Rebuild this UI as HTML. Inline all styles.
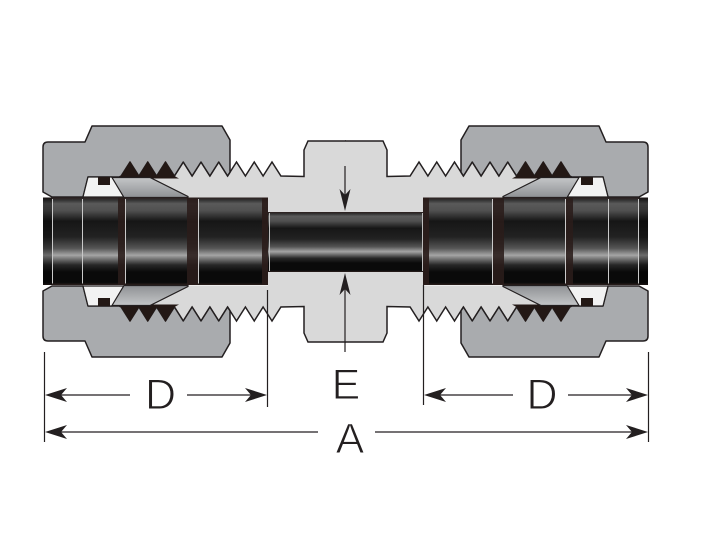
<!DOCTYPE html>
<html><head><meta charset="utf-8"><style>
html,body{margin:0;padding:0;background:#fff;}
svg{display:block;}
</style></head><body>
<svg width="707" height="546" viewBox="0 0 707 546" xmlns="http://www.w3.org/2000/svg">
<defs>
<linearGradient id="tg" x1="0" y1="0" x2="0" y2="1">
<stop offset="0" stop-color="#2b1f1d"/>
<stop offset="0.03" stop-color="#333"/>
<stop offset="0.07" stop-color="#5a5a5a"/>
<stop offset="0.15" stop-color="#505050"/>
<stop offset="0.27" stop-color="#161616"/>
<stop offset="0.45" stop-color="#222"/>
<stop offset="0.58" stop-color="#555"/>
<stop offset="0.66" stop-color="#a5a5a5"/>
<stop offset="0.70" stop-color="#777"/>
<stop offset="0.77" stop-color="#282828"/>
<stop offset="0.85" stop-color="#0a0a0a"/>
<stop offset="0.97" stop-color="#0a0a0a"/>
<stop offset="1" stop-color="#2b1f1d"/>
</linearGradient>
<linearGradient id="fg" x1="0" y1="0" x2="0" y2="1">
<stop offset="0" stop-color="#c4c6c8"/>
<stop offset="1" stop-color="#8f9194"/>
</linearGradient>
<g id="q">
<path d="M150,177.5 L174.4,176 L183.25,162 L192.1,176 L201,162 L209.9,176 L218.75,162 L227.6,176 L236.5,162 L245.4,176 L254.25,162 L263.1,176 L272,162 L280.9,176 L304,176.5 L304,150 L308,141 L346,141 L346,212.5 L268,212.5 L268,197.5 L188,197.5 Z" fill="#d9d9d9"/>
<path d="M174.4,176 L183.25,162 L192.1,176 L201,162 L209.9,176 L218.75,162 L227.6,176 L236.5,162 L245.4,176 L254.25,162 L263.1,176 L272,162 L280.9,176 L304,176.5 L304,150 L308,141 L346,141" fill="none" stroke="#231f20" stroke-width="1.5" stroke-linejoin="miter"/>
<path d="M43,192 L43,147 Q43,142 48,142 L85,142 L92,126 L222,126 L230,140 L230,172.2 L227.6,176 L218.75,162 L209.9,176 L201,162 L192.1,176 L183.25,162 L174.4,176 L165.5,162 L156.6,176 L147.75,162 L138.9,176 L130,162 L121.1,176 L119,177 L88,177 L83,197 L52,197 Z" fill="#a9abae" stroke="#231f20" stroke-width="1.5" stroke-linejoin="round"/>
<path d="M117,178.5 L121.1,176 L130,161 L138.9,176 L147.75,161 L156.6,176 L165.5,161 L174.4,176 L179,178.5 Z" fill="#231815"/>
<path d="M88,177 L112,177 L124,197 L83,197 Z" fill="#f2f2f2" stroke="#231f20" stroke-width="1.2"/>
<rect x="98" y="177" width="12" height="8" fill="#231815"/>
<path d="M112,177.5 L150,177.5 L188,196.5 L188,197.5 L124,197.5 Z" fill="url(#fg)" stroke="#231f20" stroke-width="1.2"/>
</g>
<g id="tl">
<rect x="43" y="197.5" width="225" height="87.5" fill="url(#tg)"/>
<rect x="43" y="197.5" width="9" height="87.5" fill="#000" opacity="0.35"/>
<rect x="118" y="197.5" width="7" height="87.5" fill="#2a1c1a" opacity="0.88"/>
<rect x="187" y="197.5" width="11" height="87.5" fill="#2a1c1a" opacity="0.88"/>
<rect x="262" y="197.5" width="6" height="87.5" fill="#2a1c1a" opacity="0.92"/>
<g stroke="#c9c9c9" stroke-width="1">
<line x1="52.5" y1="199" x2="52.5" y2="283.5"/>
<line x1="82.5" y1="199" x2="82.5" y2="283.5"/>
<line x1="125.5" y1="199" x2="125.5" y2="283.5"/>
<line x1="198.5" y1="199" x2="198.5" y2="283.5"/>
</g>
</g>
</defs>

<use href="#q"/>
<use href="#q" transform="matrix(-1 0 0 1 691 0)"/>
<use href="#q" transform="matrix(1 0 0 -1 0 483)"/>
<use href="#q" transform="matrix(-1 0 0 -1 691 483)"/>

<rect x="268" y="212" width="156" height="60" fill="url(#tg)"/>
<line x1="269.5" y1="213" x2="269.5" y2="271" stroke="#bdbdbd" stroke-width="1"/>
<line x1="422.5" y1="213" x2="422.5" y2="271" stroke="#bdbdbd" stroke-width="1"/>

<use href="#tl"/>
<use href="#tl" transform="matrix(-1 0 0 1 691 0)"/>

<g stroke="#231f20" stroke-width="1.2" fill="none">
<line x1="44.5" y1="352" x2="44.5" y2="442"/>
<line x1="648.5" y1="352" x2="648.5" y2="442"/>
<line x1="267.5" y1="290" x2="267.5" y2="407"/>
<line x1="423.5" y1="285" x2="423.5" y2="405"/>
<line x1="345" y1="166" x2="345" y2="196"/>
<line x1="345" y1="289" x2="345" y2="352"/>
<line x1="55" y1="395" x2="130" y2="395"/>
<line x1="187" y1="395" x2="258" y2="395"/>
<line x1="433" y1="395" x2="513" y2="395"/>
<line x1="568" y1="395" x2="640" y2="395"/>
<line x1="55" y1="432" x2="318" y2="432"/>
<line x1="375" y1="432" x2="640" y2="432"/>
</g>
<g fill="#231f20">
<path d="M45,395 L67,388 L61,395 L67,402 Z"/>
<path d="M267,395 L245,388 L251,395 L245,402 Z"/>
<path d="M424,395 L446,388 L440,395 L446,402 Z"/>
<path d="M648,395 L626,388 L632,395 L626,402 Z"/>
<path d="M45,432 L67,425 L61,432 L67,439 Z"/>
<path d="M648,432 L626,425 L632,432 L626,439 Z"/>
<path d="M345,211 L339.5,189 L345,195 L350.5,189 Z"/>
<path d="M345,273 L339.5,295 L345,289 L350.5,295 Z"/>
</g>

<g font-family="Liberation Sans, Arial, sans-serif" font-size="43" fill="#231f20" stroke="#fff" stroke-width="1" text-anchor="middle">
<text x="160.5" y="409">D</text>
<text x="542" y="409">D</text>
<text x="346" y="399">E</text>
<text x="350" y="453">A</text>
</g>
</svg>
</body></html>
